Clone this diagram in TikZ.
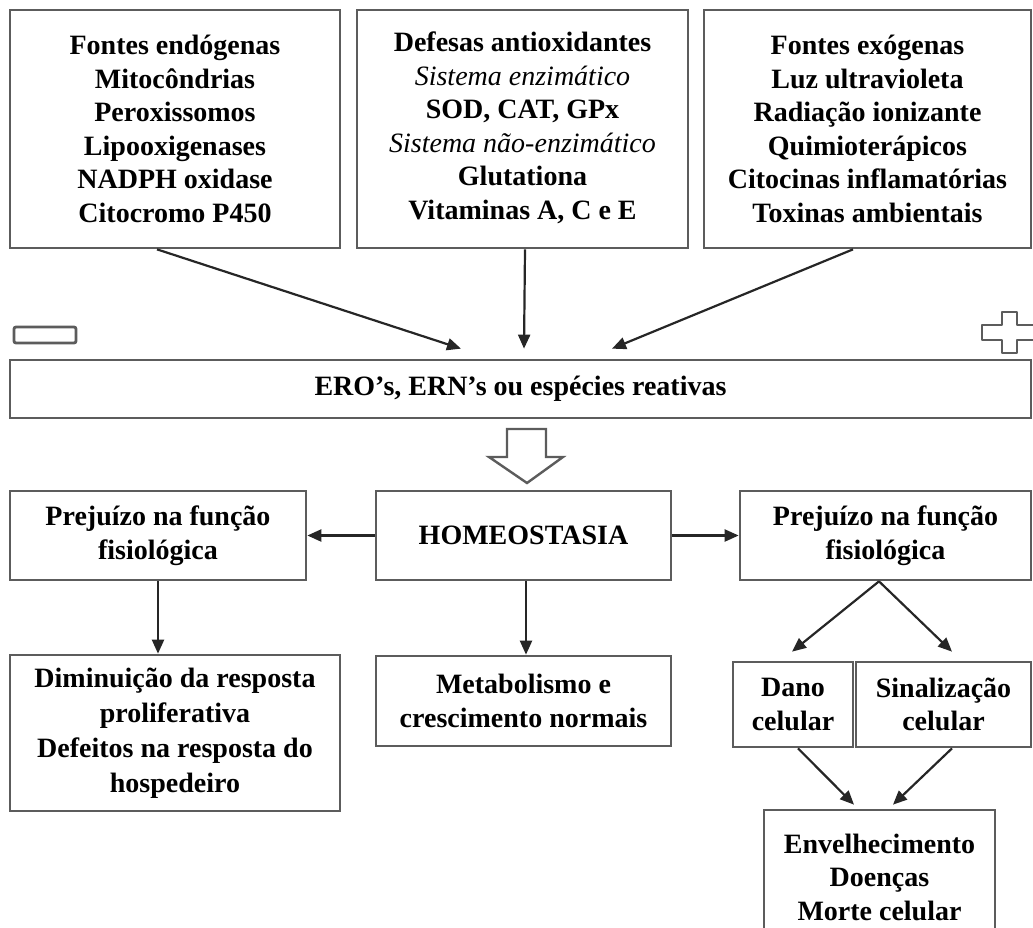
\documentclass[tikz,border=0pt]{standalone}
\usepackage{fontspec}
\setmainfont{Liberation Serif}
\usetikzlibrary{arrows.meta}
\definecolor{boxgray}{gray}{0.36}
\begin{document}
\begin{tikzpicture}[x=1pt,y=-1pt,
  box/.style={draw=boxgray, line width=2.7pt, align=center, inner sep=0pt,
    font=\bfseries\fontsize{28}{33.5}\selectfont},
  arr/.style={draw=black!85, line width=2.2pt, -{Triangle[length=14pt,width=12pt]}},
  sign/.style={draw=boxgray, line width=2.8pt, fill=white}]
\useasboundingbox (0,0) rectangle (1033,927);
\clip (0,0) rectangle (1033,927);

% top boxes
\node[box, minimum width=330pt, minimum height=238pt] (b1) at (175,129)
  {Fontes endógenas\\Mitocôndrias\\Peroxissomos\\Lipooxigenases\\NADPH oxidase\\Citocromo P450};
\node[box, minimum width=331pt, minimum height=238pt] (b2) at (522.5,129)
  {\raisebox{6pt}{\begin{tabular}{@{}c@{}}Defesas antioxidantes\\{\mdseries\itshape Sistema enzimático}\\SOD, CAT, GPx\\{\mdseries\itshape Sistema não-enzimático}\\Glutationa\\Vitaminas A, C e E\end{tabular}}};
\node[box, minimum width=327pt, minimum height=238pt] (b3) at (867.5,129)
  {Fontes exógenas\\Luz ultravioleta\\Radiação ionizante\\Quimioterápicos\\Citocinas inflamatórias\\Toxinas ambientais};

% reactive species bar
\node[box, minimum width=1021pt, minimum height=58pt] (ero) at (520.5,389)
  {ERO’s, ERN’s ou espécies reativas};

% minus and plus signs
\draw[sign, rounded corners=2pt] (14,327) rectangle (76,343);
\draw[sign, line join=round] (1002,312) -- (1017,312) -- (1017,325) -- (1040,325) -- (1040,340)
  -- (1017,340) -- (1017,353) -- (1002,353) -- (1002,340) -- (982,340) -- (982,325) -- (1002,325) -- cycle;

% arrows into bar
\draw[arr] ([xshift=-18pt]b1.south) -- ([xshift=-59.5pt,yshift=10pt]ero.north);
\draw[arr] ([xshift=2.5pt]b2.south) -- ([xshift=3.5pt,yshift=10pt]ero.north);
\draw[arr] ([xshift=-14.5pt]b3.south) -- ([xshift=91.5pt,yshift=10pt]ero.north);

% hollow arrow
\draw[draw=boxgray, line width=2.4pt, fill=white, line join=miter]
  (507,429) -- (546,429) -- (546,457) -- (563,457) -- (527,483) -- (489,457) -- (507,457) -- cycle;

% second row
\node[box, minimum width=296pt, minimum height=89pt] (lp) at (158,535.5)
  {Prejuízo na função\\fisiológica};
\node[box, minimum width=295pt, minimum height=89pt] (ho) at (523.5,535.5)
  {HOMEOSTASIA};
\node[box, minimum width=291pt, minimum height=89pt] (rp) at (885.5,535.5)
  {Prejuízo na função\\fisiológica};
\draw[arr] (ho.west) -- (lp.east);
\draw[arr] (ho.east) -- (rp.east -| rp.west);

% third row
\node[box, minimum width=330pt, minimum height=156pt, font=\bfseries\fontsize{28}{35}\selectfont] (dim) at (175,733)
  {Diminuição da resposta\\proliferativa\\Defeitos na resposta do\\hospedeiro};
\node[box, minimum width=295pt, minimum height=90pt] (met) at (523.5,701)
  {Metabolismo e\\crescimento normais};
\draw[arr] (lp.south) -- (lp.south |- dim.north);
\draw[arr] ([xshift=2.5pt]ho.south) -- ([xshift=2.5pt]ho.south |- met.north);

\node[box, minimum width=120pt, minimum height=85pt] (dano) at (793,704.5)
  {Dano\\celular};
\node[box, minimum width=175pt, minimum height=85pt] (sin) at (943.5,704.5)
  {Sinalização\\celular};
\draw[arr] ([xshift=-6.5pt]rp.south) -- ([xshift=-1pt,yshift=9pt]dano.north);
\draw[arr] ([xshift=-6.5pt]rp.south) -- ([xshift=8.5pt,yshift=9pt]sin.north);

% bottom box
\node[box, minimum width=231pt, minimum height=134pt] (env) at (879.5,877)
  {Envelhecimento\\Doenças\\Morte celular};
\draw[arr] ([xshift=5pt]dano.south) -- ([xshift=-25.5pt,yshift=4pt]env.north);
\draw[arr] ([xshift=8.5pt]sin.south) -- ([xshift=13.5pt,yshift=4pt]env.north);
\end{tikzpicture}
\end{document}
